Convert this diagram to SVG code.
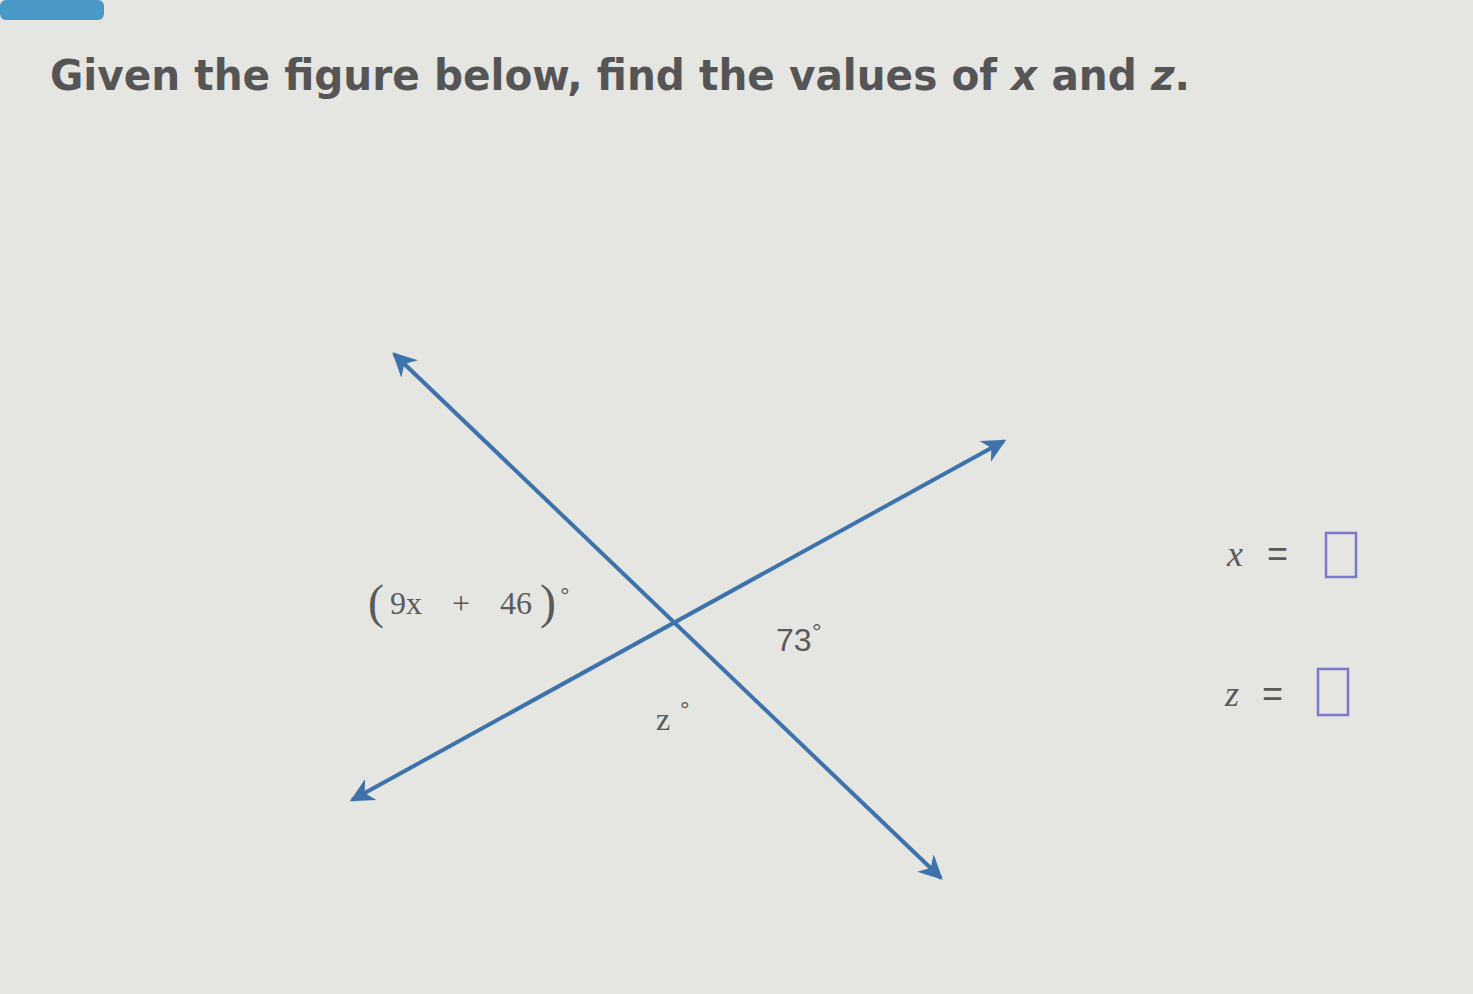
<svg xmlns="http://www.w3.org/2000/svg" width="1473" height="994" viewBox="0 0 1473 994">
<style>
.bg{fill:#e5e5e2}
.ln{stroke:#3d72aa;stroke-width:4;fill:none}
.t{fill:#555;font-family:"DejaVu Sans",sans-serif}
.m{fill:#5a5a5a;font-family:"Liberation Serif",serif}
.s{fill:#5a5a5a;font-family:"Liberation Sans",sans-serif}
.box{fill:none;stroke:#7a7ac8;stroke-width:2.5}
</style>
<defs>
<marker id="ah" viewBox="0 0 10 10" refX="9" refY="5" markerWidth="6" markerHeight="6" orient="auto-start-reverse" markerUnits="strokeWidth">
<path d="M0,0 L10,5 L0,10 L3,5 Z" fill="#3d72aa"/>
</marker>
</defs>
<rect class="bg" width="1473" height="994"/>
<rect x="0" y="0" width="104" height="20" rx="6" fill="#4a98c8"/>
<text class="t" x="50" y="90" font-size="42" font-weight="bold" textLength="1140" lengthAdjust="spacingAndGlyphs">Given the figure below, find the values of <tspan font-style="italic">x</tspan> and <tspan font-style="italic">z</tspan>.</text>
<g id="connectors">
<line class="ln" x1="394" y1="354" x2="941" y2="878" marker-start="url(#ah)" marker-end="url(#ah)"/>
<line class="ln" x1="352" y1="800" x2="1004" y2="441" marker-start="url(#ah)" marker-end="url(#ah)"/>
</g>
<g id="label-9x">
<text class="m" x="368" y="618" font-size="48">(</text>
<text class="m" x="390" y="614" font-size="32">9x</text>
<text class="m" x="452" y="614" font-size="32">+</text>
<text class="m" x="500" y="614" font-size="32">46</text>
<text class="m" x="540" y="618" font-size="48">)</text>
<text class="s" x="560" y="604" font-size="24">°</text>
</g>
<g id="label-73">
<text class="s" x="776" y="651" font-size="32">73</text>
<text class="s" x="812" y="640" font-size="24">°</text>
</g>
<g id="label-z">
<text class="m" x="656" y="730" font-size="32">z</text>
<text class="s" x="680" y="718" font-size="24">°</text>
</g>
<g id="answer-x">
<text class="m" x="1227" y="566" font-size="36" font-style="italic">x</text>
<text class="s" x="1267" y="566" font-size="36">=</text>
<rect class="box" x="1326" y="533" width="30" height="44"/>
</g>
<g id="answer-z">
<text class="m" x="1225" y="706" font-size="36" font-style="italic">z</text>
<text class="s" x="1262" y="706" font-size="36">=</text>
<rect class="box" x="1318" y="669" width="30" height="46"/>
</g>
</svg>
